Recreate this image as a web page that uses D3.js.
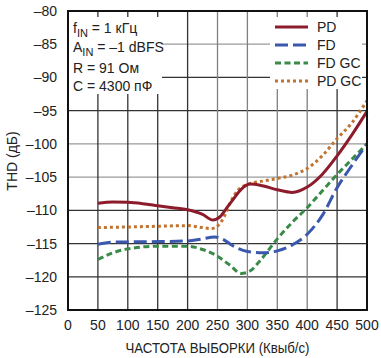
<!DOCTYPE html>
<html><head><meta charset="utf-8">
<script src="https://cdn.jsdelivr.net/npm/d3@7"></script>
<style>body{margin:0;background:#fff;}svg{display:block;font-family:"Liberation Sans",Arial,sans-serif;}</style>
</head><body>
<svg id="c" width="381" height="358"></svg>
<script>
const xTicks = [0,50,100,150,200,250,300,350,400,450,500];
const yTicks = [-80,-85,-90,-95,-100,-105,-110,-115,-120,-125];
const seriesNames = ["PD","FD","FD GC","PD GC"];
const pdX = [50,75,100,125,150,175,200,225,242,255,265,275,290,305,325,350,375,400,425,450,475,500];
const pdY = [-108.95,-108.75,-108.8,-109.0,-109.3,-109.6,-109.9,-110.6,-111.45,-110.9,-109.7,-108.5,-106.8,-106.05,-106.3,-106.9,-107.3,-106.5,-104.6,-101.8,-98.6,-95.1];
const fdX = [50,75,100,150,200,225,245,260,275,300,325,350,375,400,425,450,475,500];
const fdY = [-115.1,-114.8,-114.75,-114.7,-114.6,-114.3,-114.0,-114.4,-115.3,-116.2,-116.4,-116.1,-115.2,-113.6,-110.8,-106.6,-103.2,-100.0];
const fdgcX = [50,75,100,150,200,225,250,270,290,305,320,350,375,400,425,450,475,500];
const fdgcY = [-117.4,-116.4,-115.8,-115.4,-115.4,-115.9,-116.9,-118.2,-119.5,-119.1,-117.7,-114.3,-111.8,-109.6,-107.1,-104.6,-102.3,-100.0];
const pdgcX = [50,100,150,200,225,240,252,262,272,285,300,325,350,375,400,425,450,475,500];
const pdgcY = [-112.6,-112.5,-112.4,-112.3,-112.6,-112.75,-112.2,-110.8,-108.7,-106.9,-106.1,-105.6,-105.2,-104.7,-103.7,-101.8,-99.2,-96.8,-93.5];

const svg = d3.select("#c");
const L=68,R=367,T=11,B=310;
const x = d3.scaleLinear().domain([0,500]).range([L,R]);
const y = d3.scaleLinear().domain([-125,-80]).range([B,T]);

// grid
const lightH = new Set([-85,-100,-105]);
svg.append("g").selectAll("line").data(yTicks.filter(d=>d>-125&&d<-80)).join("line")
  .attr("x1",L).attr("x2",R).attr("y1",d=>y(d)).attr("y2",d=>y(d))
  .attr("stroke",d=>lightH.has(d)?"#9a9a9a":"#333").attr("stroke-width",1.3);
svg.append("g").selectAll("line").data(xTicks.filter(d=>d>0&&d<500)).join("line")
  .attr("y1",T).attr("y2",B).attr("x1",d=>x(d)).attr("x2",d=>x(d))
  .attr("stroke",d=>(d>=250&&d<=400)?"#808080":"#333").attr("stroke-width",1.3);

// white boxes behind annotation and legend
svg.append("rect").attr("x",L+1).attr("y",17).attr("width",93).attr("height",77).attr("fill","#fff");
svg.append("rect").attr("x",270).attr("y",17).attr("width",92).attr("height",72).attr("fill","#fff");

// curves
const line = d3.line().x(d=>x(d[0])).y(d=>y(d[1])).curve(d3.curveMonotoneX);
const styles = [
  {xs:pdX, ys:pdY, color:"#8c1c2c", dash:null},
  {xs:fdX, ys:fdY, color:"#3a58ad", dash:"13,5"},
  {xs:fdgcX, ys:fdgcY, color:"#3a8a48", dash:"6,3.5"},
  {xs:pdgcX, ys:pdgcY, color:"#c27330", dash:"3,3"}
];
const plot = svg.append("g");
[3,2,1,0].forEach(i=>{
  const s = styles[i];
  plot.append("path").datum(s.xs.map((v,k)=>[v,s.ys[k]]))
    .attr("d",line).attr("fill","none").attr("stroke",s.color).attr("stroke-width",3)
    .attr("stroke-dasharray",s.dash);
});

// frame
svg.append("rect").attr("x",L).attr("y",T).attr("width",R-L).attr("height",B-T)
  .attr("fill","none").attr("stroke","#111").attr("stroke-width",2);

// axes labels
const fmt = d=>String(d).replace("-","\u2013");
svg.append("g").selectAll("text").data(yTicks).join("text")
  .attr("x",57).attr("y",d=>y(d)+5).attr("text-anchor","end").attr("font-size",14).attr("fill","#222")
  .text(fmt);
svg.append("g").selectAll("text").data(xTicks).join("text")
  .attr("x",d=>x(d)).attr("y",330).attr("text-anchor","middle").attr("font-size",14).attr("fill","#222")
  .text(d=>d);
svg.append("text").attr("x",(L+R)/2).attr("y",353).attr("text-anchor","middle").attr("font-size",14).attr("fill","#222")
  .attr("textLength",184).attr("lengthAdjust","spacingAndGlyphs")
  .text("ЧАСТОТА ВЫБОРКИ (Квыб/с)");
svg.append("text").attr("transform","translate(17,161) rotate(-90)").attr("text-anchor","middle").attr("font-size",14).attr("fill","#222")
  .text("THD (дБ)");

// annotation
const ann = svg.append("g").attr("font-size",14).attr("fill","#222");
const t1 = ann.append("text").attr("x",73).attr("y",33);
t1.append("tspan").text("f");
t1.append("tspan").attr("dy",4).attr("font-size",11).text("IN");
t1.append("tspan").attr("dy",-4).text(" = 1 кГц");
const t2 = ann.append("text").attr("x",73).attr("y",52);
t2.append("tspan").text("A");
t2.append("tspan").attr("dy",4).attr("font-size",11).text("IN");
t2.append("tspan").attr("dy",-4).text(" = \u20131 dBFS");
ann.append("text").attr("x",73).attr("y",73).text("R = 91 Ом");
ann.append("text").attr("x",73).attr("y",91).text("C = 4300 пФ");

// legend
const lg = svg.append("g");
seriesNames.forEach((n,i)=>{
  const yy = 27 + i*18;
  lg.append("line").attr("x1",275).attr("x2",308).attr("y1",yy).attr("y2",yy)
    .attr("stroke",styles[i].color).attr("stroke-width",3).attr("stroke-dasharray",styles[i].dash);
  lg.append("text").attr("x",317).attr("y",yy+5).attr("font-size",14).attr("fill","#222").text(n);
});
</script>
</body></html>
